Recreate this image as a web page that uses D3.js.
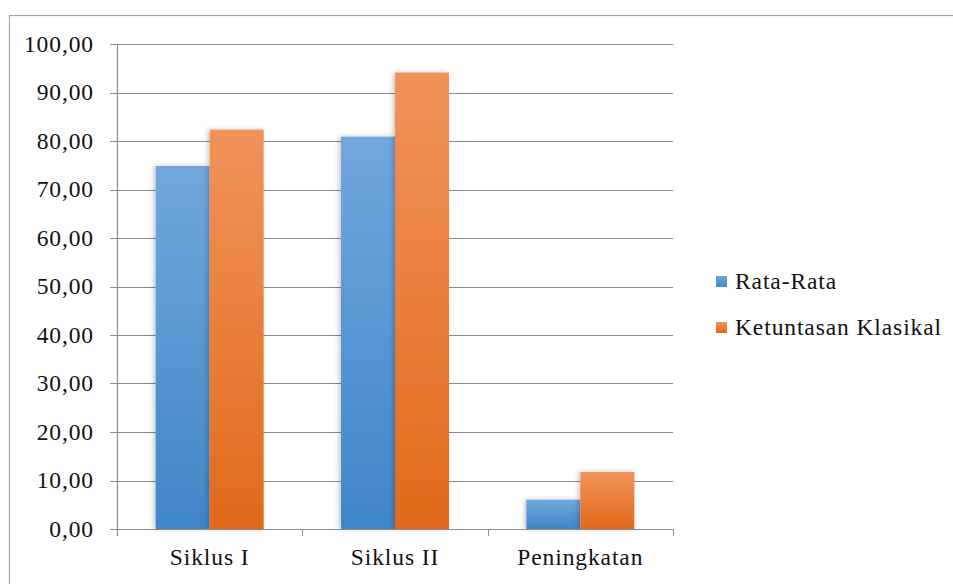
<!DOCTYPE html>
<html>
<head>
<meta charset="utf-8">
<script src="https://cdn.jsdelivr.net/npm/d3@7/dist/d3.min.js"></script>
<style>
  html, body { margin: 0; padding: 0; background: #fff; }
</style>
</head>
<body>
<svg id="chart" width="953" height="584"></svg>
<script>
// Data
const categories = ["Siklus I", "Siklus II", "Peningkatan"];
const seriesNames = ["Rata-Rata", "Ketuntasan Klasikal"];
const rataRata = [74.85, 80.90, 6.05];
const ketuntasanKlasikal = [82.35, 94.12, 11.77];
const yTicks = [0, 10, 20, 30, 40, 50, 60, 70, 80, 90, 100];

const FONT = "'Liberation Serif', 'Times New Roman', 'DejaVu Serif', serif";
const FS = 23.5;
const LS = 0.9;

const svg = d3.select("#chart")
  .attr("font-family", FONT);

// Outer chart frame
svg.append("rect")
  .attr("x", 9.5).attr("y", 15.5)
  .attr("width", 960).attr("height", 600)
  .attr("fill", "none").attr("stroke", "#a6a6a6").attr("stroke-width", 1.2);

const x0 = d3.scaleBand().domain(categories).range([117, 673]).paddingInner(0).paddingOuter(0);
const x1 = d3.scaleBand().domain(seriesNames).range([0, 108]);
const y = d3.scaleLinear().domain([0, 100]).range([529, 44]);

const defs = svg.append("defs");
const grads = [
  { id: "gBlue", top: "#71a7dd", bottom: "#3f86c8" },
  { id: "gOrange", top: "#f0935a", bottom: "#e2691b" }
];
grads.forEach(g => {
  const lg = defs.append("linearGradient").attr("id", g.id)
    .attr("x1", 0).attr("y1", 0).attr("x2", 0).attr("y2", 1);
  lg.append("stop").attr("offset", "0%").attr("stop-color", g.top);
  lg.append("stop").attr("offset", "100%").attr("stop-color", g.bottom);
});
const sh = defs.append("filter").attr("id", "shadow")
  .attr("x", "-20%").attr("y", "-10%").attr("width", "140%").attr("height", "120%");
sh.append("feDropShadow").attr("dx", -2).attr("dy", 0).attr("stdDeviation", 2.5)
  .attr("flood-color", "#000").attr("flood-opacity", 0.22);

// Gridlines
svg.append("g").selectAll("line").data(yTicks).join("line")
  .attr("x1", 110).attr("x2", 673)
  .attr("y1", d => Math.round(y(d)) + 0.5).attr("y2", d => Math.round(y(d)) + 0.5)
  .attr("stroke", "#8c8c8c").attr("stroke-width", 1);

// Y tick labels
svg.append("g").selectAll("text").data(yTicks).join("text")
  .attr("x", 94).attr("y", d => y(d))
  .attr("dy", "0.33em")
  .attr("text-anchor", "end")
  .attr("font-size", FS)
  .attr("letter-spacing", LS)
  .attr("fill", "#111")
  .text(d => d3.format(".2f")(d).replace(".", ","));

// Bars
const series = [
  { name: seriesNames[0], values: rataRata, fill: "url(#gBlue)" },
  { name: seriesNames[1], values: ketuntasanKlasikal, fill: "url(#gOrange)" }
];
const barG = svg.append("g");
categories.forEach((c, i) => {
  const gx = x0(c) + (x0.bandwidth() - 108) / 2;
  series.forEach(s => {
    barG.append("rect")
      .attr("x", gx + x1(s.name))
      .attr("y", y(s.values[i]))
      .attr("width", x1.bandwidth())
      .attr("height", y(0) - y(s.values[i]))
      .attr("fill", s.fill)
      .attr("filter", "url(#shadow)");
  });
});

// Y axis line
svg.append("line")
  .attr("x1", 117.5).attr("x2", 117.5).attr("y1", 44).attr("y2", 536)
  .attr("stroke", "#8c8c8c").attr("stroke-width", 1.2);

// X axis baseline and ticks
svg.append("line")
  .attr("x1", 110).attr("x2", 673).attr("y1", 529.5).attr("y2", 529.5)
  .attr("stroke", "#8c8c8c").attr("stroke-width", 1.2);
const bounds = categories.map(c => x0(c)).concat([x0.range()[1]]);
svg.append("g").selectAll("line").data(bounds).join("line")
  .attr("x1", d => Math.round(d) + 0.5).attr("x2", d => Math.round(d) + 0.5)
  .attr("y1", 529).attr("y2", 536)
  .attr("stroke", "#8c8c8c").attr("stroke-width", 1);

// X labels
svg.append("g").selectAll("text").data(categories).join("text")
  .attr("x", d => x0(d) + x0.bandwidth() / 2)
  .attr("y", 565)
  .attr("text-anchor", "middle")
  .attr("font-size", FS)
  .attr("letter-spacing", LS)
  .attr("fill", "#111")
  .text(d => d);

// Legend
const legend = svg.append("g");
series.forEach((s, i) => {
  const ly = 281 + i * 46;
  legend.append("rect")
    .attr("x", 716).attr("y", ly - 5).attr("width", 11).attr("height", 11)
    .attr("fill", s.fill);
  legend.append("text")
    .attr("x", 735).attr("y", ly)
    .attr("dy", "0.33em")
    .attr("font-size", FS)
    .attr("letter-spacing", LS)
    .attr("fill", "#111")
    .text(s.name);
});
</script>
</body>
</html>
